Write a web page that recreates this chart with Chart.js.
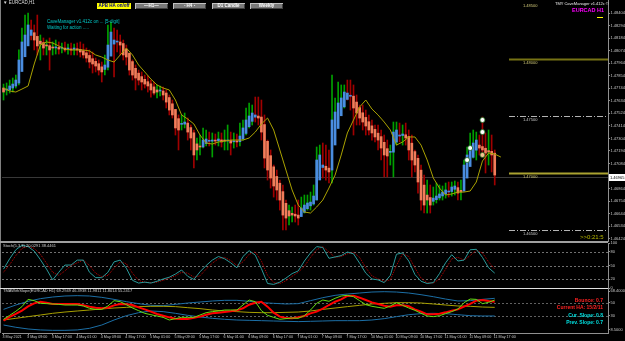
<!DOCTYPE html>
<html>
<head>
<meta charset="utf-8">
<title>EURCAD H1</title>
<script src="https://cdn.jsdelivr.net/npm/chart.js@4.4.1/dist/chart.umd.min.js"></script>
<style>
  html, body { margin: 0; padding: 0; background: #000; }
  #wrap { position: relative; width: 625px; height: 341px; overflow: hidden; background: #000;
          font-family: "Liberation Sans", Arial, sans-serif; }
  canvas { position: absolute; left: 0; }
  .t { position: absolute; white-space: nowrap; line-height: 1; }
  .btn { position: absolute; top: 3px; width: 33px; height: 6px; font: bold 4.5px "Liberation Sans", Arial, sans-serif;
         line-height: 6px; text-align: center; color: #fff; background: #7a7a7a; white-space: nowrap; overflow: hidden;
         box-shadow: inset 1px 1px #c0c0c0, inset -1px -1px #404040; }
  .sep { position: absolute; left: 0; width: 608px; }
</style>
</head>
<body>
<div id="wrap">
  <canvas id="main" width="625" height="242" style="top:0px"></canvas>
  <canvas id="stoch" width="625" height="55" style="top:238px"></canvas>
  <canvas id="tma" width="625" height="58" style="top:283px"></canvas>

  <div style="position:absolute;left:0;top:0;width:1px;height:333px;background:#808080"></div>
  <div class="sep" style="top:241px;height:2px;background:#a0a0a0"></div>
  <div class="sep" style="top:288px;height:1px;background:#e0e0e0"></div>

  <div class="t" style="left:3px;top:1px;font-size:4.5px;color:#dddddd">▼ EURCAD,H1</div>
  <div class="btn" style="left:97px;width:34px;background:#ffff00;color:#000080;box-shadow:none">APB HA on/off</div>
  <div class="btn" style="left:135px">—H1—</div>
  <div class="btn" style="left:173px">- H4 -</div>
  <div class="btn" style="left:212px">D1 Candle</div>
  <div class="btn" style="left:250px">Weekly</div>

  <div class="t" style="left:47px;top:20px;font-size:4.5px;color:#00c8c8">CaveManager v1.412c on ... [5-digit]</div>
  <div class="t" style="left:47px;top:26px;font-size:4.5px;color:#00c8c8">Waiting for action .....</div>

  <div class="t" style="left:555px;top:2px;font-size:4px;color:#eeeeee">TMY CaveManager v1.412c ©</div>
  <div class="t" style="left:572px;top:7px;font:bold 5.5px 'Liberation Sans',Arial,sans-serif;color:#ff00ff">EURCAD H1</div>
  <div style="position:absolute;left:597px;top:17px;width:6px;height:1px;background:#ffff00"></div>
  <div class="t" style="left:580px;top:234px;font-size:6px;color:#b8b800">&gt;&gt;0:21:5</div>

  <div class="t" style="left:3px;top:244px;font-size:4px;color:#cccccc">Stoch(5,3,3) 20.0291 38.4461</div>
  <div class="t" style="left:3px;top:289px;font-size:4px;color:#cccccc">TMAWithSlope(EURCAD H1) 69.2949 46.3938 11.9811 11.8014 55.2417</div>

  <div class="t" style="right:22px;top:297px;font:bold 5px 'Liberation Sans',Arial,sans-serif;color:#ff2020">Bounce: 0.7</div>
  <div class="t" style="right:22px;top:304px;font:bold 5px 'Liberation Sans',Arial,sans-serif;color:#ff2020">Current HA: 15/2/11</div>
  <div class="t" style="right:22px;top:312px;font:bold 5px 'Liberation Sans',Arial,sans-serif;color:#00e0e0">Cur. Slope: 0.8</div>
  <div class="t" style="right:22px;top:319px;font:bold 5px 'Liberation Sans',Arial,sans-serif;color:#00e0e0">Prev. Slope: 0.7</div>
</div>

<script>
// EURCAD H1, one bar per hour, bar 0 = 3 May 01:00
const timeLabels = ['3 May 2021', '3 May 09:00', '3 May 17:00', '4 May 01:00', '4 May 09:00', '4 May 17:00',
  '5 May 01:00', '5 May 09:00', '5 May 17:00', '6 May 01:00', '6 May 09:00', '6 May 17:00', '7 May 01:00',
  '7 May 09:00', '7 May 17:00', '10 May 01:00', '10 May 09:00', '10 May 17:00', '11 May 01:00',
  '11 May 09:00', '11 May 17:00']

const highs = [
  1.47781, 1.47790, 1.47816, 1.47834, 1.47860, 1.48080, 1.48272, 1.48386, 1.48404, 1.48343,
  1.48299, 1.48386, 1.48211, 1.48185, 1.48167, 1.48185, 1.48150, 1.48167, 1.48150, 1.48141,
  1.48150, 1.48132, 1.48141, 1.48132, 1.48141, 1.48150, 1.48132, 1.48097, 1.48080, 1.48062,
  1.48009, 1.47992, 1.47974, 1.48036, 1.48299, 1.48325, 1.48272, 1.48255, 1.48211, 1.48167,
  1.48123, 1.48036, 1.47992, 1.47948, 1.47904, 1.47887, 1.47860, 1.47852, 1.47816, 1.47799,
  1.47773, 1.47764, 1.47755, 1.47729, 1.47685, 1.47641, 1.47553, 1.47510, 1.47510, 1.47527,
  1.47483, 1.47422, 1.47378, 1.47308, 1.47334, 1.47396, 1.47378, 1.47360, 1.47352, 1.47343,
  1.47360, 1.47352, 1.47378, 1.47422, 1.47360, 1.47352, 1.47343, 1.47439, 1.47466, 1.47571,
  1.47615, 1.47597, 1.47667, 1.47667, 1.47641, 1.47510, 1.47290, 1.47203, 1.47071, 1.47027,
  1.46939, 1.46896, 1.46764, 1.46720, 1.46703, 1.46720, 1.46764, 1.46790, 1.46808, 1.46808,
  1.46834, 1.46896, 1.47229, 1.47246, 1.47264, 1.47246, 1.47203, 1.47860, 1.47659, 1.47799,
  1.47773, 1.47773, 1.47816, 1.47816, 1.47773, 1.47685, 1.47597, 1.47597, 1.47553, 1.47510,
  1.47466, 1.47422, 1.47422, 1.47378, 1.47334, 1.47290, 1.47246, 1.47448, 1.47448, 1.47439,
  1.47422, 1.47439, 1.47378, 1.47334, 1.47203, 1.47159, 1.47071, 1.46983, 1.46939, 1.46896,
  1.46878, 1.46913, 1.46896, 1.46887, 1.46913, 1.46922, 1.46922, 1.46931, 1.46922, 1.46939,
  1.47115, 1.47229, 1.47352, 1.47378, 1.47360, 1.47334, 1.47492, 1.47352, 1.47378, 1.47334,
  1.47203]

const lows = [
  1.47641, 1.47685, 1.47702, 1.47711, 1.47746, 1.47773, 1.47948, 1.48036, 1.48123, 1.48167,
  1.48080, 1.48036, 1.47992, 1.48036, 1.48036, 1.47904, 1.48036, 1.48044, 1.48044, 1.48053,
  1.48062, 1.48044, 1.48036, 1.48036, 1.48036, 1.48018, 1.48009, 1.47974, 1.47922, 1.47878,
  1.47887, 1.47860, 1.47799, 1.47860, 1.47904, 1.48036, 1.47843, 1.48062, 1.48036, 1.47992,
  1.47948, 1.47860, 1.47816, 1.47729, 1.47773, 1.47729, 1.47746, 1.47711, 1.47667, 1.47685,
  1.47659, 1.47676, 1.47641, 1.47571, 1.47510, 1.47483, 1.47334, 1.47203, 1.47378, 1.47396,
  1.47290, 1.47203, 1.47045, 1.47115, 1.47159, 1.47220, 1.47238, 1.47238, 1.47141, 1.47246,
  1.47238, 1.47229, 1.47203, 1.47203, 1.47159, 1.47220, 1.47229, 1.47238, 1.47290, 1.47334,
  1.47396, 1.47422, 1.47448, 1.47422, 1.47290, 1.47045, 1.46939, 1.46869, 1.46790, 1.46764,
  1.46676, 1.46501, 1.46501, 1.46545, 1.46571, 1.46571, 1.46545, 1.46632, 1.46650, 1.46676,
  1.46676, 1.46720, 1.46764, 1.46983, 1.46957, 1.46939, 1.46913, 1.46913, 1.47290, 1.47396,
  1.47510, 1.47571, 1.47641, 1.47553, 1.47334, 1.47422, 1.47422, 1.47378, 1.47334, 1.47334,
  1.47290, 1.47273, 1.47203, 1.47115, 1.46966, 1.46966, 1.47071, 1.46966, 1.47246, 1.47273,
  1.47246, 1.47246, 1.47115, 1.46966, 1.47010, 1.46825, 1.46676, 1.46650, 1.46650, 1.46650,
  1.46720, 1.46738, 1.46764, 1.46764, 1.46781, 1.46790, 1.46799, 1.46808, 1.46764, 1.46764,
  1.46852, 1.47071, 1.47115, 1.47132, 1.47115, 1.47159, 1.47159, 1.47001, 1.47071, 1.47010,
  1.46896]

// Heiken Ashi closes as shown by the APB bodies
const haCloses = [
  1.47711, 1.47729, 1.47764, 1.47781, 1.47816, 1.47992, 1.48150, 1.48211, 1.48299, 1.48255,
  1.48167, 1.48115, 1.48132, 1.48097, 1.48115, 1.48080, 1.48097, 1.48106, 1.48088, 1.48097,
  1.48080, 1.48088, 1.48080, 1.48097, 1.48080, 1.48062, 1.48036, 1.48009, 1.47974, 1.47957,
  1.47939, 1.47904, 1.47887, 1.47948, 1.48123, 1.48237, 1.48167, 1.48150, 1.48123, 1.48036,
  1.48018, 1.47904, 1.47860, 1.47834, 1.47816, 1.47799, 1.47781, 1.47764, 1.47729, 1.47702,
  1.47711, 1.47720, 1.47685, 1.47623, 1.47553, 1.47510, 1.47396, 1.47378, 1.47431, 1.47448,
  1.47360, 1.47308, 1.47159, 1.47203, 1.47229, 1.47290, 1.47299, 1.47281, 1.47290, 1.47281,
  1.47299, 1.47273, 1.47281, 1.47290, 1.47264, 1.47281, 1.47273, 1.47325, 1.47396, 1.47466,
  1.47501, 1.47527, 1.47510, 1.47483, 1.47360, 1.47132, 1.47027, 1.46957, 1.46887, 1.46852,
  1.46764, 1.46632, 1.46606, 1.46624, 1.46632, 1.46624, 1.46606, 1.46694, 1.46720, 1.46738,
  1.46746, 1.46799, 1.47115, 1.47159, 1.47071, 1.47027, 1.47010, 1.47466, 1.47536, 1.47615,
  1.47659, 1.47711, 1.47702, 1.47676, 1.47571, 1.47527, 1.47483, 1.47448, 1.47413, 1.47378,
  1.47352, 1.47317, 1.47290, 1.47220, 1.47159, 1.47150, 1.47185, 1.47360, 1.47378, 1.47334,
  1.47343, 1.47308, 1.47203, 1.47115, 1.47071, 1.46922, 1.46764, 1.46720, 1.46764, 1.46720,
  1.46781, 1.46799, 1.46817, 1.46834, 1.46852, 1.46843, 1.46878, 1.46887, 1.46825, 1.46834,
  1.47071, 1.47159, 1.47220, 1.47264, 1.47290, 1.47220, 1.47203, 1.47176, 1.47185, 1.47159,
  1.46983]
const firstHaOpen = 1.47746

// yellow moving average, one value every 2 bars
const maValues = [
  1.47746, 1.47720, 1.47711, 1.47737, 1.47764, 1.47957, 1.48123, 1.48150, 1.48141, 1.48115,
  1.48088, 1.48080, 1.48080, 1.48080, 1.48071, 1.48036, 1.48018, 1.47992, 1.47974, 1.48036,
  1.48097, 1.48036, 1.47948, 1.47887, 1.47825, 1.47773, 1.47746, 1.47729, 1.47641, 1.47510,
  1.47474, 1.47431, 1.47334, 1.47264, 1.47255, 1.47273, 1.47281, 1.47290, 1.47290, 1.47290,
  1.47308, 1.47360, 1.47431, 1.47483, 1.47378, 1.47203, 1.47027, 1.46852, 1.46720, 1.46659,
  1.46650, 1.46703, 1.46764, 1.46869, 1.46983, 1.47159, 1.47352, 1.47466, 1.47580, 1.47641,
  1.47562, 1.47510, 1.47448, 1.47378, 1.47246, 1.47273, 1.47317, 1.47317, 1.47246, 1.47115,
  1.46957, 1.46869, 1.46808, 1.46817, 1.46834, 1.46834, 1.46843, 1.46922, 1.47106, 1.47176,
  1.47167, 1.47141]

const markerBars = [156, 156, 152, 151, 156]
const markerPrices = [1.47466, 1.47360, 1.47220, 1.47115, 1.47159]

const priceTicks = [1.48404, 1.48294, 1.48184, 1.48074, 1.47964, 1.47854, 1.47744, 1.47634, 1.47524,
  1.47414, 1.47304, 1.47194, 1.47084, 1.46864, 1.46754, 1.46644, 1.46534, 1.46424]
const levelPrices = [1.48500, 1.48000, 1.47500, 1.47000, 1.46500]
const levelStyles = ['label', 'solid', 'dash', 'solid', 'dash']
const levelColors = ['#d0c878', '#767214', '#b4b4b4', '#aaa230', '#b4b4b4']
const lastPrice = 1.46965

// Stoch(5,3,3), one value every 2 bars
const stochMain = [
  42, 65, 85, 95, 92, 82, 63, 42, 18, 35, 51, 51, 62, 62, 35, 23, 23, 35, 58, 62,
  44, 17, 11, 13, 11, 15, 20, 24, 31, 40, 26, 19, 36, 50, 62, 70, 65, 56, 45, 70,
  83, 73, 43, 10, 8, 13, 22, 32, 38, 60, 78, 92, 90, 66, 69, 72, 80, 76, 55, 33,
  20, 18, 12, 28, 75, 78, 60, 30, 15, 10, 12, 32, 56, 74, 60, 62, 85, 86, 68, 45,
  33]
const stochSignal = [
  35, 52, 72, 88, 93, 88, 75, 55, 35, 28, 38, 50, 56, 62, 50, 33, 25, 28, 44, 58,
  54, 33, 17, 13, 12, 13, 17, 22, 27, 35, 33, 24, 27, 42, 55, 65, 68, 61, 50, 58,
  75, 80, 60, 28, 12, 10, 16, 26, 35, 48, 68, 85, 92, 80, 68, 70, 76, 79, 68, 45,
  27, 20, 15, 18, 50, 76, 70, 45, 22, 12, 11, 20, 42, 65, 68, 62, 72, 84, 78, 58,
  42]
const stochTicks = [0, 20, 50, 80, 100]
const stochLevels = [20, 50, 80]

// TMA with slope: bands and slow line every 4 bars, fast lines every 2 bars
const tmaUpper = [40.2, 46.9, 52.6, 56.7, 59.2, 60.8, 61.3, 60.8, 58.7, 55.6, 52.0, 49.0, 46.4, 45.9,
  47.9, 50.0, 51.5, 53.1, 54.1, 54.1, 52.6, 50.5, 49.5, 48.5, 49.0, 53.6, 58.2, 61.8, 63.8, 65.4,
  66.9, 67.4, 66.9, 65.4, 62.8, 59.7, 56.1, 53.1, 53.6, 55.6, 57.2]
const tmaLower = [16.1, 12.6, 10.0, 8.5, 7.9, 7.9, 8.5, 11.0, 16.1, 23.8, 30.5, 35.1, 37.7, 36.7,
  34.1, 31.0, 28.5, 26.4, 24.9, 23.8, 23.3, 22.8, 22.3, 21.8, 21.3, 21.8, 22.3, 22.8, 22.8, 22.8,
  23.8, 25.9, 29.0, 32.0, 33.6, 34.1, 33.6, 32.0, 30.5, 30.0, 30.0]
const tmaSlow = [23.8, 26.4, 29.0, 31.5, 34.1, 36.1, 37.7, 39.2, 40.8, 42.3, 43.3, 44.4, 44.9, 44.9,
  44.4, 42.8, 41.3, 39.2, 37.7, 36.7, 35.6, 35.1, 35.1, 35.6, 36.1, 37.7, 40.2, 42.3, 44.4, 46.4,
  48.5, 49.5, 50.5, 50.5, 50.0, 48.5, 46.9, 45.4, 44.9, 43.8, 43.3]
const tmaRed = [
  22.8, 28.5, 33.1, 38.2, 44.9, 49.5, 52.0, 50.5, 48.5, 48.5, 48.5, 48.5, 48.5, 46.4, 44.4, 42.8,
  41.8, 42.8, 46.4, 48.5, 47.9, 46.9, 43.3, 40.2, 36.7, 33.1, 30.5, 27.9, 25.9, 25.4, 25.4, 27.4,
  29.0, 32.0, 34.1, 35.1, 36.1, 37.2, 38.7, 41.8, 47.4, 50.5, 52.0, 44.4, 35.1, 29.0, 26.9, 26.4,
  27.9, 30.0, 34.1, 36.7, 41.3, 46.9, 52.0, 55.6, 60.8, 61.3, 58.2, 54.6, 51.0, 48.5, 45.9, 44.4,
  46.4, 46.4, 44.9, 40.2, 36.7, 32.6, 32.6, 33.6, 35.6, 38.2, 40.2, 44.4, 48.5, 53.6, 54.6, 53.1,
  52.0]
const tmaGreen = [
  24.9, 31.0, 37.2, 44.4, 55.6, 53.6, 49.5, 49.0, 48.5, 47.9, 46.9, 46.9, 46.9, 45.4, 41.8, 40.2,
  40.2, 45.4, 53.6, 52.0, 47.4, 42.3, 38.2, 34.1, 32.0, 30.0, 27.9, 23.8, 25.9, 27.9, 27.9, 27.9,
  31.5, 35.1, 36.7, 37.7, 39.2, 39.2, 39.2, 46.9, 54.6, 52.0, 38.2, 31.0, 27.9, 24.9, 25.9, 26.9,
  26.4, 30.5, 39.2, 49.5, 54.6, 52.6, 57.2, 60.8, 61.8, 59.7, 53.6, 47.4, 44.9, 43.3, 41.8, 45.4,
  50.5, 46.4, 42.3, 38.7, 34.1, 30.0, 29.0, 30.5, 33.6, 36.7, 40.8, 50.5, 56.1, 55.6, 49.0, 51.0,
  54.6]
const tmaTicks = [68.4, 50, 30, 8.5]
const tmaLevels = [50, 30]

const xMin = -0.5
const xMax = 196.9
const levelStartBar = 164.5
const FONT = '"Liberation Sans", Arial, sans-serif'
const AXIS_COLOR = '#909090'
const LABEL_COLOR = '#c8c8c8'

const haOpens = []
haCloses.forEach((c, i) => {
  haOpens.push(i === 0 ? firstHaOpen : (haOpens[i - 1] + haCloses[i - 1]) / 2)
})

const bodyColors = haCloses.map((c, i) => c >= haOpens[i] ? '#4a8de0' : '#f27d5a')
const wickColors = haCloses.map((c, i) => (i > 0 && c < haCloses[i - 1]) ? '#a00000' : '#00a000')

const every = (arr, step) => arr.map((v, k) => ({x: k * step, y: v}))

function hiddenX() {
  return {type: 'linear', min: xMin, max: xMax, offset: false, display: false}
}

function rightAxis(opts) {
  return {
    position: 'right',
    min: opts.min,
    max: opts.max,
    afterBuildTicks: (axis) => { axis.ticks = opts.ticks.map((v) => ({value: v})) },
    afterFit: (axis) => { axis.width = 17; axis.paddingTop = 0; axis.paddingBottom = 0 },
    ticks: {
      autoSkip: false,
      padding: 0.5,
      color: LABEL_COLOR,
      font: {size: 4, family: FONT},
      callback: opts.format
    },
    grid: {drawOnChartArea: false, drawTicks: true, tickLength: 2, color: AXIS_COLOR},
    border: {color: AXIS_COLOR}
  }
}

const baseOptions = (padding) => ({
  responsive: false,
  animation: false,
  events: [],
  layout: {autoPadding: false, padding},
  plugins: {legend: {display: false}, tooltip: {enabled: false}}
})

const dotLines = {
  id: 'dotLines',
  beforeDatasetsDraw(chart, args, opts) {
    const {ctx, chartArea: a, scales: {y}} = chart
    ctx.save()
    ctx.strokeStyle = opts.color
    ctx.lineWidth = 1
    ctx.setLineDash([2, 2])
    opts.values.forEach((v) => {
      const py = Math.round(y.getPixelForValue(v)) + 0.5
      ctx.beginPath()
      ctx.moveTo(a.left, py)
      ctx.lineTo(a.right, py)
      ctx.stroke()
    })
    ctx.restore()
  }
}

const priceLevels = {
  id: 'priceLevels',
  beforeDatasetsDraw(chart) {
    const {ctx, chartArea: a, scales: {y}} = chart
    const py = Math.round(y.getPixelForValue(lastPrice)) + 0.5
    ctx.save()
    ctx.strokeStyle = '#383838'
    ctx.lineWidth = 1
    ctx.beginPath()
    ctx.moveTo(a.left, py)
    ctx.lineTo(a.right, py)
    ctx.stroke()
    ctx.restore()
  },
  afterDatasetsDraw(chart) {
    const {ctx, chartArea: a, scales: {x, y}} = chart
    const x0 = Math.round(x.getPixelForValue(levelStartBar))
    ctx.save()
    ctx.font = '4px ' + FONT
    ctx.textBaseline = 'top'
    levelPrices.forEach((p, i) => {
      const style = levelStyles[i]
      const py = Math.round(y.getPixelForValue(p)) + 0.5
      if (style !== 'label') {
        ctx.strokeStyle = levelColors[i]
        ctx.lineWidth = style === 'solid' ? 2 : 1
        ctx.setLineDash(style === 'solid' ? [] : [6, 2, 1, 2])
        ctx.beginPath()
        ctx.moveTo(x0, py)
        ctx.lineTo(a.right, py)
        ctx.stroke()
      }
      ctx.fillStyle = style === 'dash' ? '#c8c8c8' : '#d0c878'
      ctx.fillText(p.toFixed(5), x0 + 14, py + 1)
    })
    ctx.restore()
  },
  afterDraw(chart) {
    const {ctx, chartArea: a, scales: {y}} = chart
    const py = Math.round(y.getPixelForValue(lastPrice))
    ctx.save()
    ctx.fillStyle = '#ffffff'
    ctx.fillRect(a.right + 1, py - 3, 16, 7)
    ctx.fillStyle = '#000000'
    ctx.font = '4px ' + FONT
    ctx.textBaseline = 'middle'
    ctx.fillText(lastPrice.toFixed(5), a.right + 2, py + 0.5)
    ctx.restore()
  }
}

new Chart(document.getElementById('main'), {
  type: 'bar',
  data: {
    datasets: [
      {
        type: 'scatter',
        data: markerBars.map((b, i) => ({x: b, y: markerPrices[i]})),
        pointRadius: 2.5,
        pointBackgroundColor: ['#ffffff', '#ffffff', '#ffffff', '#ffffff', '#f4c090'],
        pointBorderColor: '#1a6a1a',
        pointBorderWidth: 0.8,
        order: 0
      },
      {
        type: 'line',
        data: every(maValues, 2),
        borderColor: '#aaa200',
        borderWidth: 1,
        pointRadius: 0,
        order: 1
      },
      {
        data: haCloses.map((c, i) => ({x: i, y: [haOpens[i], c]})),
        backgroundColor: bodyColors,
        barThickness: 2,
        minBarLength: 1,
        grouped: false,
        order: 2
      },
      {
        data: highs.map((h, i) => ({x: i, y: [lows[i], h]})),
        backgroundColor: wickColors,
        barThickness: 1,
        grouped: false,
        order: 3
      }
    ]
  },
  options: {
    ...baseOptions({left: 2, right: 0, top: 0, bottom: 0}),
    scales: {
      x: hiddenX(),
      y: rightAxis({min: 1.46396, max: 1.48518, ticks: priceTicks, format: (v) => v.toFixed(5)})
    }
  },
  plugins: [priceLevels]
})

const stochOptions = baseOptions({left: 2, right: 0, top: 5, bottom: 5})
stochOptions.plugins.dotLines = {values: stochLevels, color: '#707070'}
stochOptions.scales = {
  x: hiddenX(),
  y: rightAxis({min: 0, max: 100, ticks: stochTicks, format: (v) => String(v)})
}

new Chart(document.getElementById('stoch'), {
  type: 'line',
  data: {
    datasets: [
      {data: every(stochMain, 2), borderColor: '#2a9a9a', borderWidth: 1, pointRadius: 0, order: 0},
      {data: every(stochSignal, 2), borderColor: '#c00000', borderWidth: 1, borderDash: [1, 1], pointRadius: 0, order: 1}
    ]
  },
  options: stochOptions,
  plugins: [dotLines]
})

const tmaOptions = baseOptions({left: 2, right: 0, top: 5, bottom: 0})
tmaOptions.plugins.dotLines = {values: tmaLevels, color: '#606060'}
tmaOptions.scales = {
  x: {
    type: 'linear',
    min: xMin,
    max: xMax,
    offset: false,
    afterBuildTicks: (axis) => { axis.ticks = timeLabels.map((_, k) => ({value: k * 8})) },
    afterFit: (axis) => { axis.height = 8; axis.paddingLeft = 0; axis.paddingRight = 0 },
    ticks: {
      autoSkip: false,
      maxRotation: 0,
      minRotation: 0,
      align: 'start',
      padding: 0,
      labelOffset: -1,
      color: LABEL_COLOR,
      font: {size: 3.7, family: FONT},
      callback: (v, i) => timeLabels[i]
    },
    grid: {drawOnChartArea: false, drawTicks: true, tickLength: 2, color: AXIS_COLOR},
    border: {color: AXIS_COLOR}
  },
  y: rightAxis({min: 3.8, max: 73.1, ticks: tmaTicks, format: (v) => v === 50 || v === 30 ? String(v) : v.toFixed(4)})
}

new Chart(document.getElementById('tma'), {
  type: 'line',
  data: {
    datasets: [
      {data: every(tmaGreen, 2), borderColor: '#66dd11', borderWidth: 1, pointRadius: 0, order: 0},
      {data: every(tmaRed, 2), borderColor: '#ff0000', borderWidth: 2, pointRadius: 0, order: 1},
      {data: every(tmaSlow, 4), borderColor: '#a8a000', borderWidth: 1, pointRadius: 0, order: 2},
      {data: every(tmaUpper, 4), borderColor: '#1c6fa6', borderWidth: 1, pointRadius: 0, order: 3},
      {data: every(tmaLower, 4), borderColor: '#1c6fa6', borderWidth: 1, pointRadius: 0, order: 4}
    ]
  },
  options: tmaOptions,
  plugins: [dotLines]
})
</script>
</body>
</html>
